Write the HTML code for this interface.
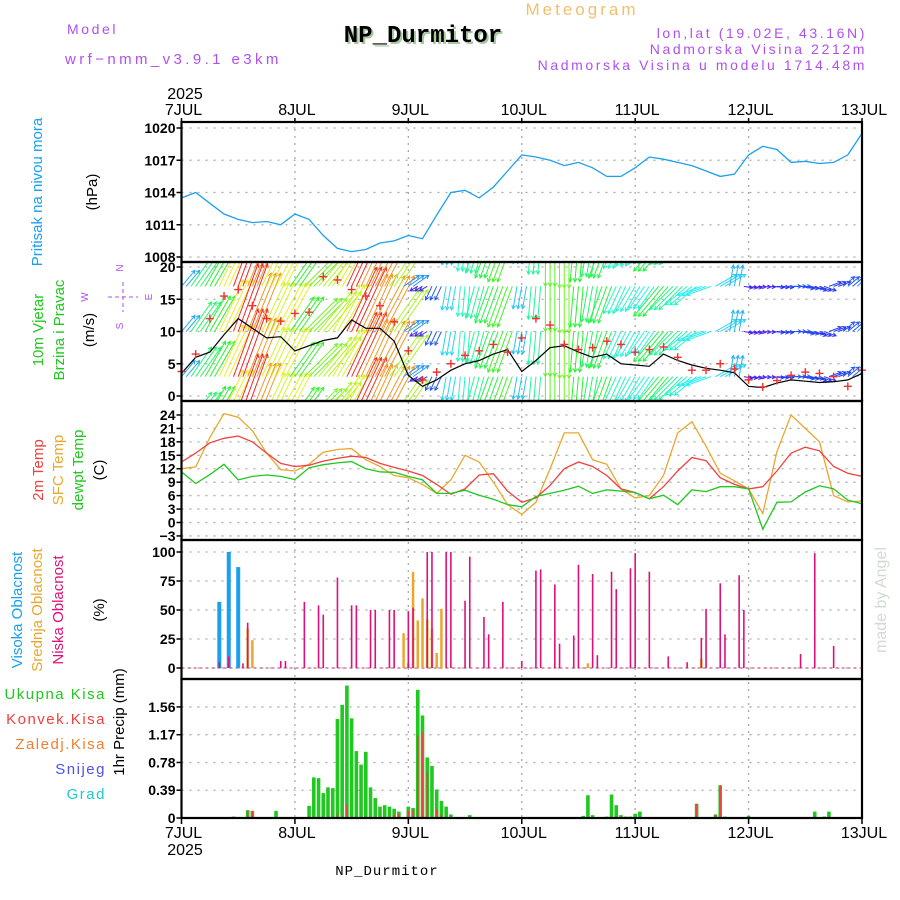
<!DOCTYPE html>
<html><head><meta charset="utf-8">
<style>
html,body{margin:0;padding:0;background:#fff;}
svg{display:block;font-family:"Liberation Sans",sans-serif;}
.t{font-size:13px;letter-spacing:1.5px;}
.h{font-size:14px;letter-spacing:2.6px;}
.n{font-size:14px;font-weight:bold;fill:#000;}
</style></head>
<body>
<svg id="c" width="900" height="900" viewBox="0 0 900 900" xmlns="http://www.w3.org/2000/svg">
<text x="582" y="15" text-anchor="middle" style="font-size:17px;letter-spacing:3px;fill:#f0c070">Meteogram</text>
<text x="67" y="34" class="h" style="fill:#b050f0">Model</text>
<text x="65" y="64" class="h" style="fill:#b050f0;letter-spacing:3.4px;font-size:15px">wrf−nmm_v3.9.1 e3km</text>
<text x="425" y="44" text-anchor="middle" style="font-family:'Liberation Mono',monospace;font-size:24px;font-weight:bold;fill:#a8c8a0">NP_Durmitor</text>
<text x="423" y="42" text-anchor="middle" style="font-family:'Liberation Mono',monospace;font-size:24px;font-weight:bold;fill:#000">NP_Durmitor</text>
<text x="867" y="38" text-anchor="end" class="h" style="fill:#b050f0">lon,lat (19.02E, 43.16N)</text>
<text x="867" y="54" text-anchor="end" class="h" style="fill:#b050f0">Nadmorska Visina 2212m</text>
<text x="867" y="70" text-anchor="end" class="h" style="fill:#b050f0">Nadmorska Visina u modelu 1714.48m</text>
<text x="185" y="99" text-anchor="middle" style="font-size:16px">2025</text>
<text x="185" y="855" text-anchor="middle" style="font-size:16px">2025</text>
<text x="387" y="875" text-anchor="middle" style="font-family:'Liberation Mono',monospace;font-size:14px;letter-spacing:1px">NP_Durmitor</text>
<g id="plot"></g>
</svg>
<script>
// ---- data (3-hourly, 7JUL 00 .. 13JUL 00) ----
const dayLabels = ["7JUL","8JUL","9JUL","10JUL","11JUL","12JUL","13JUL"];
const pressure = [1013.5,1014,1013,1012,1011.5,1011.2,1011.3,1011,
 1012,1011.5,1010,1008.8,1008.5,1008.7,1009.3,1009.5,
 1010,1009.7,1011.9,1014,1014.2,1013.5,1014.5,1016,
 1017.5,1017.3,1017,1016.5,1016.8,1016.3,1015.5,1015.5,
 1016.3,1017.3,1017.1,1016.8,1016.5,1016,1015.5,1015.7,
 1017.5,1018.3,1018,1016.8,1016.9,1016.7,1016.8,1017.5,1019.5];
const windSpeed = [3.5,6,6.8,9.5,12,10.5,9,9.2,
 7,7.8,8.6,9,11.8,10.5,10.5,8.5,
 3.2,1.5,2.5,4,5,5.5,6.5,7.2,
 3.8,5.5,7.5,7.8,6.8,6,6.5,5,
 4.8,4.6,6.5,5.5,4.8,4.3,4,3.6,
 1.5,1.3,2,2.5,2.3,2.1,2.2,2.5,3.5];
const windGust = [3.8,6.5,12,15.5,16.5,14,12,11.6,
 12.8,13,18.5,18,16.5,15.5,14,11.5,
 7,2.5,3.7,5,6.3,7,8,6.8,
 9,12,11,8,7.2,7.5,8.5,8,
 6.8,7.2,7.6,6,4,4,5,4.2,
 2.5,1.4,2.4,3.2,3.7,3.5,3,1.5,4];
const windDir = [50,55,60,65,70,68,65,62,
 55,45,50,60,65,65,62,55,
 35,-150,-115,-100,-95,-105,-110,-110,
 -100,-95,-90,-90,-95,-100,-110,-115,
 -120,-125,-130,-135,-140,-160,30,80,
 -10,-5,-5,0,-10,-20,20,40,45];
const temp2m = [13.5,15.5,17.8,18.8,19.3,18,15.5,13.2,
 12.5,12.8,13.7,14.3,14.8,14.5,13.2,12.3,
 11.5,10.5,8.5,6.3,7.5,10.6,10.9,7,
 4.5,5.5,8.3,12,13.5,12.5,10.5,7.5,
 6.7,5.3,8,11.5,14.5,13.8,10,8.5,
 7.5,8,11.5,15.5,16.8,16,12.5,11,10.3];
const tempSfc = [12,12.4,19,24.3,23.5,20.5,15.5,11.8,
 11.5,13,15.7,16.3,16.5,14,12.5,10.5,
 10,8.5,6.5,9.5,15,13.5,9,4,
 1.8,4.5,12,20,20,14,13,7.5,
 5.5,6,10.5,20,22.5,17,11,9.3,
 7.5,2,15.8,24,21,18,6,4.6,4.8];
const dewpt = [11.3,8.7,10.7,13,9.5,10.3,10.6,10.3,
 9.6,12.2,12.9,13.3,13.6,12,11.3,11.2,
 10.3,9.5,6.5,6.5,7.2,6.1,5.2,4,
 3.5,5.8,6.5,7.2,8.1,6.5,7.3,7,
 6.7,5.3,6.1,4,7.3,6.9,8,8,
 7.5,-1.5,4.5,4.6,6.8,8.2,7.5,5,4.2];
// cloud cover (hour index, %)
const highHours = [8,10,12];
const highVals = [57,100,87];
const midHours = [14,15,47,48,49,50,51,52,53,54,55,86,110];
const midVals = [34,24,30,4,83,41,60,42,34,13,51,4,8];
const lowHours = [8,10,13,14,21,22,26,29,30,33,36,37,40,41,44,45,48,49,52,53,56,57,60,61,64,65,68,72,75,76,79,80,83,84,87,88,91,92,95,96,99,103,107,110,111,114,115,118,119,131,134,138];
const lowVals = [5,10,4,39,6,6,57,54,46,78,54,54,50,50,50,50,49,52,100,100,100,100,58,96,44,29,57,6,84,85,72,21,28,89,81,11,83,68,86,99,83,10,5,26,51,73,29,80,50,12,99,19];
// precipitation (hour index, mm)
const precHours = [11,14,15,20,27,28,29,30,31,32,33,34,35,36,37,38,39,40,41,42,43,44,45,46,47,48,49,50,51,52,53,54,55,56,57,61,85,86,87,90,91,92,93,94,95,96,97,109,113,114,115,120,134,136,137];
const precTotal = [0.02,0.11,0.1,0.1,0.17,0.57,0.56,0.35,0.43,0.42,1.39,1.59,1.86,1.4,0.94,0.75,0.93,0.43,0.28,0.16,0.18,0.16,0.13,0.09,0.01,0.16,0.14,1.8,1.44,0.85,0.73,0.4,0.24,0.16,0.05,0.04,0.03,0.32,0.04,0.02,0.33,0.18,0.04,0.02,0.02,0.06,0.09,0.2,0.05,0.46,0.02,0.03,0.09,0.02,0.09];
const precConv = [0,0.1,0.1,0,0,0,0,0,0,0,0.07,0,0.19,0,0,0,0,0,0,0,0,0,0.05,0.05,0,0.1,0.12,1.16,1.2,0.64,0,0.12,0.05,0,0,0,0,0,0,0,0,0,0,0,0,0,0,0.2,0.05,0.46,0,0,0,0,0];

const NS="http://www.w3.org/2000/svg";
const g=document.getElementById('plot');
function el(tag,attrs,parent){const e=document.createElementNS(NS,tag);for(const k in attrs)e.setAttribute(k,attrs[k]);(parent||g).appendChild(e);return e;}
const X0=181.5, X1=862, PXH=(X1-X0)/144;
const X=h=>X0+h*PXH;
const Yp=v=>128+(1020-v)*10.75;
const Yw=v=>396-v*6.45;
const Yt=v=>522.5-v*4.48;
const Yc=v=>668-v*1.16;
const Yr=v=>818-v*71.2;
const panels=[[122,262],[262,401],[401,540],[540,679],[679,818]];

function hgrid(ticks,fn,labels,name){
  ticks.forEach((t,i)=>{
    const y=fn(t);
    const l=el('line',{x1:X0,x2:X1,y1:y,y2:y,stroke:'#aaa','stroke-width':1.3,'stroke-dasharray':'2,6'});
    
    
    const tk=el('line',{x1:X0-5,x2:X0,y1:y,y2:y,stroke:'#000','stroke-width':1.5});
    
    
    const tx=el('text',{x:X0-6,y:y+5,'text-anchor':'end',class:'n'});
    tx.textContent=labels[i];
    
    
  });
}
const pTicks=[1008,1011,1014,1017,1020];
const wTicks=[0,5,10,15,20];
const tTicks=[-3,0,3,6,9,12,15,18,21,24];
const cTicks=[0,25,50,75,100];
const rTicks=[0,0.39,0.78,1.17,1.56];
hgrid(pTicks,Yp,pTicks.map(String),'pressure');
hgrid(wTicks,Yw,wTicks.map(String),'wind');
hgrid(tTicks,Yt,tTicks.map(v=>v<0?'−'+(-v):String(v)),'temp');
hgrid(cTicks,Yc,cTicks.map(String),'cloud');
hgrid(rTicks,Yr,rTicks.map(v=>v===0?'0':v.toFixed(2)),'precip');
dayLabels.forEach((d,i)=>{
  const x=X(i*24);
  if(i>0&&i<6){const l=el('line',{x1:x,x2:x,y1:122,y2:818,stroke:'#aaa','stroke-width':1.3,'stroke-dasharray':'2,5'});
  
  }
  [[118,122],[818,824]].forEach(p=>{const t=el('line',{x1:x,x2:x,y1:p[0],y2:p[1],stroke:'#000','stroke-width':1.5});
  
  });
  const a=el('text',{x:x+2,y:115,'text-anchor':'middle',style:'font-size:16px'});a.textContent=d;
  
  
  const b=el('text',{x:x+2,y:838,'text-anchor':'middle',style:'font-size:16px'});b.textContent=d;
  
  
});

const defs=el('defs',{});
const cp=el('clipPath',{id:'wclip'},defs);
el('rect',{x:X0,y:263,width:X1-X0,height:137},cp);

function line(arr,fn,color,name,w){
  const d=arr.map((v,i)=>(i?'L':'M')+X(i*3).toFixed(1)+','+fn(v).toFixed(1)).join('');
  const p=el('path',{d:d,fill:'none',stroke:color,'stroke-width':w||1.3});
  
  
  return p;
}
line(pressure,Yp,'#1aa0ef','pressure-line');

// wind arrows
const wg=el('g',{'clip-path':'url(#wclip)'});


const rows=[-4,3,10,17,24];
windSpeed.forEach((s,i)=>{
  const hue=Math.max(0,Math.min(285,285-s*24));
  const col='hsl('+hue+',90%,55%)';
  const ang=windDir[i]*Math.PI/180, len=Math.max(8,s*6);
  const dx=Math.cos(ang)*len, dy=-Math.sin(ang)*len;
  for(let k=-1;k<=1;k++){
    if(i===0&&k<0) continue; if(i===windSpeed.length-1&&k>0) continue;
    const x=X(i*3+k);
    rows.forEach(r=>{
      const y=Yw(r);
      const x2=x+dx,y2=y+dy;
      const a=el('path',{d:`M${x},${y}L${x2},${y2}M${x2-4*Math.cos(ang-0.5)},${y2+4*Math.sin(ang-0.5)}L${x2},${y2}L${x2-4*Math.cos(ang+0.5)},${y2+4*Math.sin(ang+0.5)}`,stroke:col,'stroke-width':1,fill:'none'},wg);
      
      
    });
  }
});
line(windSpeed,Yw,'#000','wind-speed-line',1.2);
windGust.forEach((v,i)=>{
  const x=X(i*3),y=Yw(v);
  const m=el('path',{d:`M${x-4},${y}h8M${x},${y-4}v8`,stroke:'#f03030','stroke-width':1.4});
  
  
});

line(tempSfc,Yt,'#e8a830','sfc-temp-line');
line(temp2m,Yt,'#f04040','temp-2m-line');
line(dewpt,Yt,'#20c820','dewpoint-line');

function bars(hours,vals,fn,color,w,name){
  hours.forEach((h,i)=>{
    const x=X(h),y=fn(vals[i]),y0=fn(0);
    const r=el('rect',{x:x-w/2,y:y,width:w,height:Math.max(0,y0-y),fill:color});
    
    
  });
}
el('line',{x1:X0,x2:X1,y1:Yc(0),y2:Yc(0),stroke:'#d06090','stroke-width':1.2,'stroke-dasharray':'3,3'});
bars(highHours,highVals,Yc,'#1aa0ef',4,'high-cloud-bar');
bars(midHours,midVals,Yc,'#e8a830',2.5,'mid-cloud-bar');
bars(lowHours,lowVals,Yc,'#e0107a',1.6,'low-cloud-bar');

bars(precHours,precTotal,Yr,'#20c820',3.6,'total-precip-bar');
bars(precHours,precConv,Yr,'#f04040',1.6,'convective-precip-bar');

panels.forEach(p=>{
  const r=el('rect',{x:X0,y:p[0],width:X1-X0,height:p[1]-p[0],fill:'none',stroke:'#000','stroke-width':2.2});
  
  
});

function vtext(x,y,txt,color,name,size){
  const t=el('text',{x:x,y:y,'text-anchor':'middle',transform:`rotate(-90 ${x} ${y})`,style:`font-size:${size||15}px;fill:${color}`});
  t.textContent=txt;
  
  
}
vtext(42,192,'Pritisak na nivou mora','#1aa0ef','pressure-axis-title');
vtext(97,192,'(hPa)','#000','pressure-unit');
vtext(43,330,'10m Vjetar','#20c820','wind-axis-title');
vtext(64,330,'Brzina i Pravac','#20c820','wind-axis-subtitle');
vtext(94,330,'(m/s)','#000','wind-unit');
vtext(43,470,'2m Temp','#f04040','temp-2m-title');
vtext(63,470,'SFC Temp','#e8a830','sfc-temp-title');
vtext(83,470,'dewpt Temp','#20c820','dewpoint-title');
vtext(104,470,'(C)','#000','temp-unit');
vtext(22,610,'Visoka Oblacnost','#1aa0ef','high-cloud-title');
vtext(42,610,'Srednja Oblacnost','#e8a830','mid-cloud-title');
vtext(63,610,'Niska Oblacnost','#e0107a','low-cloud-title');
vtext(104,610,'(%)','#000','cloud-unit');
vtext(124,722,'1hr Precip (mm)','#000','precip-axis-title');
vtext(886,600,'made by Angel','#d0dcd0','credit',16);
[['Ukupna Kisa','#20c820',699],['Konvek.Kisa','#f04040',724],['Zaledj.Kisa','#f08030',749],['Snijeg','#5050f0',774],['Grad','#20c8d0',799]].forEach(a=>{
  const t=el('text',{x:106,y:a[2],'text-anchor':'end',class:'t',style:'font-size:15px;fill:'+a[1]});
  t.textContent=a[0];
  
  
});
const cg=el('g',{style:'fill:#b050f0;font-size:10px'});


[['N',123,268],['S',123,326],['W',88,297],['E',152,297]].forEach(c=>{
  const t=el('text',{x:c[1],y:c[2],'text-anchor':'middle',transform:`rotate(-90 ${c[1]} ${c[2]})`},cg);t.textContent=c[0];
});
el('path',{d:'M123,282v30M108,297h30',stroke:'#b050f0','stroke-width':1,'stroke-dasharray':'4,3'},cg);
</script>
</body></html>
